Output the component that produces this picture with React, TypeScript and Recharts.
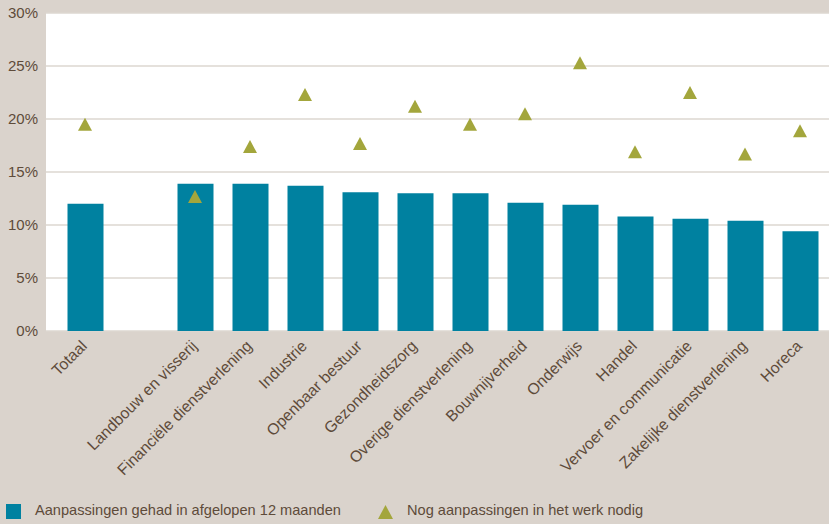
import {
  ComposedChart,
  Bar,
  Scatter,
  XAxis,
  YAxis,
  CartesianGrid,
  Legend,
} from 'recharts';

const sectors = [
  'Totaal',
  '',
  'Landbouw en visserij',
  'Financiële dienstverlening',
  'Industrie',
  'Openbaar bestuur',
  'Gezondheidszorg',
  'Overige dienstverlening',
  'Bouwnijverheid',
  'Onderwijs',
  'Handel',
  'Vervoer en communicatie',
  'Zakelijke dienstverlening',
  'Horeca',
];
const gehad = [12.0, null, 13.9, 13.9, 13.7, 13.1, 13.0, 13.0, 12.1, 11.9, 10.8, 10.6, 10.4, 9.4];
const nodig = [19.5, null, 12.7, 17.4, 22.3, 17.7, 21.2, 19.5, 20.5, 25.3, 16.9, 22.5, 16.7, 18.9];
const yTicks = [0, 5, 10, 15, 20, 25, 30];

const labelGehad = 'Aanpassingen gehad in afgelopen 12 maanden';
const labelNodig = 'Nog aanpassingen in het werk nodig';

const data = sectors.map((name, i) => ({ name, gehad: gehad[i], nodig: nodig[i] }));

const BG = '#dad3cc';
const TEAL = '#0081a0';
const OLIVE = '#a3a63c';
const TEXT = '#5e4b3a';
const FONT = '"Liberation Sans", Arial, sans-serif';

// olive triangle marker, centred on the point
function Triangle(props: any) {
  const { cx, cy, payload } = props;
  if (payload == null || payload.nodig == null || cx == null || cy == null) return <g />;
  const w = 14;
  const h = 13;
  return (
    <polygon
      points={`${cx},${cy - h / 2} ${cx - w / 2},${cy + h / 2} ${cx + w / 2},${cy + h / 2}`}
      fill={OLIVE}
    />
  );
}

function SectorTick(props: any) {
  const { x, y, payload } = props;
  if (!payload.value) return <g />;
  return (
    <g transform={`translate(${x + 3},${y + 8})`}>
      <text
        x={0}
        y={0}
        textAnchor="end"
        transform="rotate(-45)"
        fill={TEXT}
        fontSize={15.8}
        fontFamily={FONT}
      >
        {payload.value}
      </text>
    </g>
  );
}

function LegendBox() {
  return (
    <div style={{ position: 'relative', height: 24, width: 829, fontFamily: FONT, fontSize: 14.6, color: TEXT }}>
      <div style={{ position: 'absolute', left: 6, top: 4, width: 15, height: 15, background: TEAL }} />
      <div style={{ position: 'absolute', left: 35, top: 2, whiteSpace: 'nowrap' }}>{labelGehad}</div>
      <svg style={{ position: 'absolute', left: 378, top: 5 }} width={15} height={14}>
        <polygon points="7.5,0 0,14 15,14" fill={OLIVE} />
      </svg>
      <div style={{ position: 'absolute', left: 407, top: 2, whiteSpace: 'nowrap' }}>{labelNodig}</div>
    </div>
  );
}

export default function App() {
  return (
    <div style={{ position: 'fixed', left: 0, top: 0, width: 829, height: 524, background: BG }}>
      <ComposedChart
        width={829}
        height={524}
        data={data}
        margin={{ top: 13, right: 0, bottom: 0, left: 0 }}
        barSize={36}
      >
        <CartesianGrid vertical={false} fill="#ffffff" stroke="#ddd7d0" strokeWidth={1.5} />
        <XAxis
          dataKey="name"
          height={169}
          axisLine={false}
          tickLine={false}
          interval={0}
          padding={{ left: 11.5, right: 1.5 }}
          tick={<SectorTick />}
        />
        <YAxis
          width={46}
          domain={[0, 30]}
          ticks={yTicks}
          axisLine={false}
          tickLine={false}
          tickFormatter={(v: number) => `${v}%`}
          tick={{ fill: TEXT, fontSize: 15, fontFamily: FONT }}
        />
        <Bar dataKey="gehad" name={labelGehad} fill={TEAL} isAnimationActive={false} />
        <Scatter dataKey="nodig" name={labelNodig} shape={<Triangle />} isAnimationActive={false} />
        <Legend verticalAlign="bottom" align="left" height={24} content={<LegendBox />} />
      </ComposedChart>
    </div>
  );
}
